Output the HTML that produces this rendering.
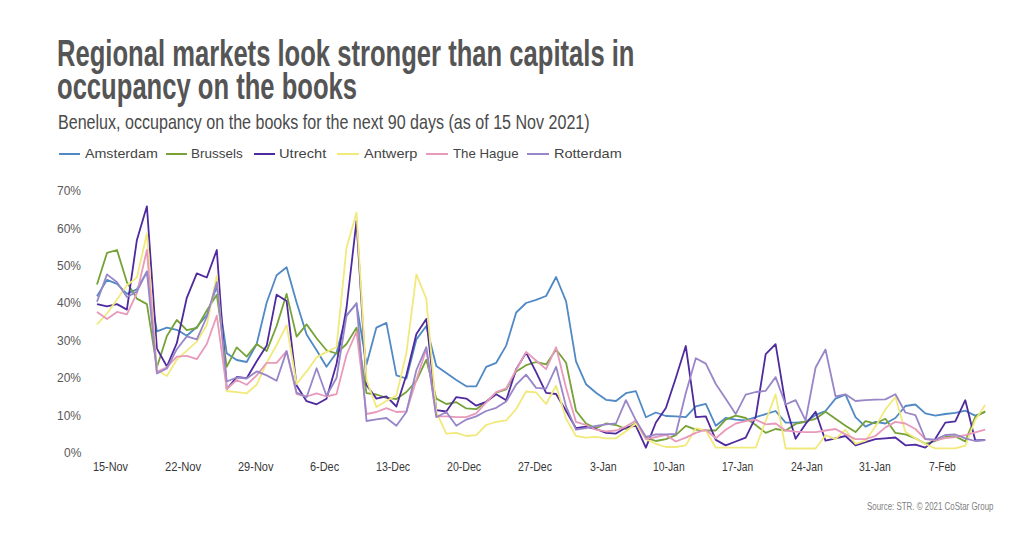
<!DOCTYPE html>
<html><head><meta charset="utf-8">
<style>
html,body{margin:0;padding:0;background:#fff;}
body{width:1024px;height:537px;position:relative;overflow:hidden;font-family:"Liberation Sans",sans-serif;}
.t{position:absolute;white-space:nowrap;transform-origin:0 0;line-height:1;}
#t1,#t2{font-size:36.8px;font-weight:bold;color:#555555;}
#t1{left:57px;top:35.6px;transform:scaleX(0.6956);}
#t2{left:57px;top:69px;transform:scaleX(0.6956);}
#sub{left:58px;top:111.8px;font-size:20.3px;color:#4a4a4a;transform:scaleX(0.7925);}
.lg{position:absolute;top:153.4px;height:1.6px;width:22px;}
.lt{font-size:13.5px;color:#444;top:147px;}
.yl{font-size:12.5px;color:#595959;transform:scaleX(0.96);}
.xl{font-size:12px;color:#383838;}
#src{left:867px;top:500.5px;font-size:11px;color:#7f7f7f;transform:scaleX(0.72);}
svg{position:absolute;left:0;top:0;}
</style></head><body>
<div class="t" id="t1">Regional markets look stronger than capitals in</div>
<div class="t" id="t2">occupancy on the books</div>
<div class="t" id="sub">Benelux, occupancy on the books for the next 90 days (as of 15 Nov 2021)</div>

<div class="lg" style="left:58.8px;width:21.7px;background:#5089c4"></div><div class="t lt" style="left:84.5px;transform:scaleX(1.055)">Amsterdam</div>
<div class="lg" style="left:165.8px;width:21.7px;background:#76a238"></div><div class="t lt" style="left:191.4px;transform:scaleX(0.998)">Brussels</div>
<div class="lg" style="left:253.8px;width:21.7px;background:#4f2a9e"></div><div class="t lt" style="left:279.3px;transform:scaleX(1.088)">Utrecht</div>
<div class="lg" style="left:336.6px;width:22.9px;background:#f2e97c"></div><div class="t lt" style="left:363.5px;transform:scaleX(1.079)">Antwerp</div>
<div class="lg" style="left:426.3px;width:21.9px;background:#e79abb"></div><div class="t lt" style="left:452.9px;transform:scaleX(0.982)">The Hague</div>
<div class="lg" style="left:527.3px;width:22.0px;background:#9886c8"></div><div class="t lt" style="left:553.6px;transform:scaleX(1.075)">Rotterdam</div>

<div class="t yl" style="left:57.3px;top:185.1px">70%</div>
<div class="t yl" style="left:57.3px;top:222.5px">60%</div>
<div class="t yl" style="left:57.3px;top:260.0px">50%</div>
<div class="t yl" style="left:57.3px;top:297.4px">40%</div>
<div class="t yl" style="left:57.3px;top:334.9px">30%</div>
<div class="t yl" style="left:57.3px;top:372.3px">20%</div>
<div class="t yl" style="left:57.3px;top:409.7px">10%</div>
<div class="t yl" style="left:63.6px;top:447.2px">0%</div>

<div class="t xl" style="left:93.2px;top:460.5px;transform:scaleX(0.906)">15-Nov</div>
<div class="t xl" style="left:164.9px;top:460.5px;transform:scaleX(0.936)">22-Nov</div>
<div class="t xl" style="left:237.8px;top:460.5px;transform:scaleX(0.917)">29-Nov</div>
<div class="t xl" style="left:309.8px;top:460.5px;transform:scaleX(0.910)">6-Dec</div>
<div class="t xl" style="left:375.7px;top:460.5px;transform:scaleX(0.882)">13-Dec</div>
<div class="t xl" style="left:447.0px;top:460.5px;transform:scaleX(0.882)">20-Dec</div>
<div class="t xl" style="left:518.3px;top:460.5px;transform:scaleX(0.876)">27-Dec</div>
<div class="t xl" style="left:589.8px;top:460.5px;transform:scaleX(0.885)">3-Jan</div>
<div class="t xl" style="left:652.9px;top:460.5px;transform:scaleX(0.862)">10-Jan</div>
<div class="t xl" style="left:722.0px;top:460.5px;transform:scaleX(0.851)">17-Jan</div>
<div class="t xl" style="left:790.6px;top:460.5px;transform:scaleX(0.863)">24-Jan</div>
<div class="t xl" style="left:859.3px;top:460.5px;transform:scaleX(0.865)">31-Jan</div>
<div class="t xl" style="left:928.7px;top:460.5px;transform:scaleX(0.856)">7-Feb</div>

<div class="t" id="src">Source: STR. © 2021 CoStar Group</div>

<svg width="1024" height="537" id="chart">
<path d="M97.0,296.3 L107.0,279.9 L117.0,283.8 L126.9,293.9 L136.9,289.2 L146.9,272.0 L156.9,331.3 L166.9,327.6 L176.8,329.8 L186.8,335.8 L196.8,327.0 L206.8,315.0 L216.8,286.1 L226.7,353.2 L236.7,360.0 L246.7,362.0 L256.7,344.0 L266.7,302.5 L276.6,275.2 L286.6,267.3 L296.6,302.5 L306.6,334.5 L316.6,350.3 L326.5,366.8 L336.5,352.7 L346.5,315.0 L356.5,304.0 L366.5,364.4 L376.4,327.6 L386.4,322.9 L396.4,375.4 L406.4,378.5 L416.4,339.4 L426.3,326.0 L436.3,366.0 L446.3,373.0 L456.3,380.0 L466.3,386.3 L476.2,386.3 L486.2,366.8 L496.2,362.8 L506.2,345.6 L516.2,312.5 L526.1,303.0 L536.1,299.9 L546.1,296.0 L556.1,277.0 L566.1,301.4 L576.0,361.3 L586.0,384.2 L596.0,392.8 L606.0,399.8 L616.0,401.0 L625.9,393.2 L635.9,391.2 L645.9,417.2 L655.9,412.5 L665.9,416.0 L675.8,416.4 L685.8,417.2 L695.8,406.3 L705.8,403.9 L715.8,425.8 L725.7,418.0 L735.7,419.6 L745.7,420.4 L755.7,417.2 L765.7,414.1 L775.6,411.0 L785.6,422.7 L795.6,422.7 L805.6,422.0 L815.6,414.9 L825.5,411.0 L835.5,398.6 L845.5,394.7 L855.5,417.2 L865.5,426.6 L875.4,421.9 L885.4,423.5 L895.4,418.0 L905.4,406.0 L915.4,404.5 L925.3,413.4 L935.3,415.6 L945.3,414.0 L955.3,412.8 L965.3,410.7 L975.2,415.6 L985.2,412.0" fill="none" stroke="#5089c4" stroke-width="1.8" stroke-linejoin="round"/>
<path d="M97.0,284.5 L107.0,252.9 L117.0,250.0 L126.9,282.2 L136.9,298.6 L146.9,304.1 L156.9,367.3 L166.9,336.0 L176.8,320.0 L186.8,330.2 L196.8,328.0 L206.8,310.4 L216.8,294.7 L226.7,366.9 L236.7,347.4 L246.7,356.6 L256.7,344.0 L266.7,351.1 L276.6,326.0 L286.6,293.9 L296.6,336.6 L306.6,324.4 L316.6,338.2 L326.5,350.3 L336.5,353.5 L346.5,344.0 L356.5,327.6 L366.5,393.2 L376.4,394.5 L386.4,397.8 L396.4,399.0 L406.4,392.0 L416.4,380.8 L426.3,359.7 L436.3,398.6 L446.3,404.0 L456.3,402.2 L466.3,408.4 L476.2,409.2 L486.2,402.0 L496.2,392.6 L506.2,389.4 L516.2,371.4 L526.1,365.2 L536.1,362.0 L546.1,364.4 L556.1,349.5 L566.1,362.8 L576.0,410.8 L586.0,423.5 L596.0,428.2 L606.0,423.5 L616.0,425.0 L625.9,429.0 L635.9,423.0 L645.9,437.6 L655.9,441.0 L665.9,439.1 L675.8,435.2 L685.8,425.8 L695.8,429.7 L705.8,430.5 L715.8,430.5 L725.7,419.6 L735.7,415.7 L745.7,418.0 L755.7,425.0 L765.7,432.9 L775.6,429.0 L785.6,430.5 L795.6,423.9 L805.6,421.5 L815.6,418.8 L825.5,411.8 L835.5,418.8 L845.5,425.8 L855.5,432.1 L865.5,421.1 L875.4,423.5 L885.4,418.8 L895.4,432.9 L905.4,434.4 L915.4,438.3 L925.3,443.8 L935.3,441.0 L945.3,437.0 L955.3,436.5 L965.3,441.4 L975.2,417.0 L985.2,411.4" fill="none" stroke="#76a238" stroke-width="1.8" stroke-linejoin="round"/>
<path d="M97.0,304.1 L107.0,306.4 L117.0,304.1 L126.9,309.6 L136.9,239.9 L146.9,206.3 L156.9,348.6 L166.9,366.5 L176.8,343.2 L186.8,297.8 L196.8,273.4 L206.8,277.5 L216.8,250.0 L226.7,389.3 L236.7,377.0 L246.7,378.2 L256.7,361.3 L266.7,345.6 L276.6,294.7 L286.6,301.0 L296.6,385.5 L306.6,401.2 L316.6,404.3 L326.5,398.8 L336.5,364.0 L346.5,308.0 L356.5,220.8 L366.5,385.0 L376.4,398.6 L386.4,396.3 L396.4,406.5 L406.4,375.0 L416.4,334.0 L426.3,319.0 L436.3,410.2 L446.3,411.5 L456.3,397.1 L466.3,398.6 L476.2,405.7 L486.2,401.8 L496.2,394.3 L506.2,400.2 L516.2,369.1 L526.1,352.7 L536.1,372.2 L546.1,392.8 L556.1,394.0 L566.1,411.0 L576.0,428.2 L586.0,426.6 L596.0,429.0 L606.0,432.9 L616.0,433.6 L625.9,427.4 L635.9,425.8 L645.9,447.7 L655.9,422.5 L665.9,408.0 L675.8,378.0 L685.8,346.0 L695.8,417.2 L705.8,416.4 L715.8,439.9 L725.7,445.4 L735.7,441.5 L745.7,437.6 L755.7,417.2 L765.7,354.2 L775.6,344.1 L785.6,405.0 L795.6,438.8 L805.6,424.0 L815.6,411.8 L825.5,440.7 L835.5,438.3 L845.5,436.0 L855.5,445.4 L865.5,442.2 L875.4,439.1 L885.4,438.3 L895.4,437.5 L905.4,445.3 L915.4,444.6 L925.3,447.7 L935.3,438.8 L945.3,422.6 L955.3,421.4 L965.3,400.2 L975.2,440.3 L985.2,440.0" fill="none" stroke="#4f2a9e" stroke-width="1.8" stroke-linejoin="round"/>
<path d="M97.0,324.4 L107.0,313.5 L117.0,299.4 L126.9,285.3 L136.9,277.5 L146.9,233.6 L156.9,370.0 L166.9,376.0 L176.8,359.6 L186.8,350.7 L196.8,341.7 L206.8,325.0 L216.8,276.0 L226.7,391.0 L236.7,392.2 L246.7,393.3 L256.7,384.7 L266.7,362.8 L276.6,345.0 L286.6,325.2 L296.6,384.0 L306.6,371.4 L316.6,357.4 L326.5,351.9 L336.5,347.2 L346.5,248.0 L356.5,212.5 L366.5,380.0 L376.4,407.0 L386.4,401.0 L396.4,395.5 L406.4,353.0 L416.4,274.4 L426.3,298.6 L436.3,412.0 L446.3,433.6 L456.3,432.9 L466.3,436.0 L476.2,435.2 L486.2,425.0 L496.2,421.9 L506.2,420.4 L516.2,409.0 L526.1,391.5 L536.1,392.4 L546.1,404.0 L556.1,385.8 L566.1,418.8 L576.0,436.0 L586.0,437.6 L596.0,436.8 L606.0,438.3 L616.0,438.3 L625.9,431.3 L635.9,423.5 L645.9,439.1 L655.9,443.8 L665.9,447.0 L675.8,447.0 L685.8,445.4 L695.8,428.2 L705.8,430.5 L715.8,447.7 L725.7,447.7 L735.7,447.7 L745.7,447.7 L755.7,447.7 L765.7,421.0 L775.6,394.3 L785.6,448.5 L795.6,448.5 L805.6,448.5 L815.6,448.5 L825.5,435.2 L835.5,439.1 L845.5,429.7 L855.5,443.8 L865.5,440.7 L875.4,426.6 L885.4,409.4 L895.4,397.0 L905.4,431.8 L915.4,438.3 L925.3,444.0 L935.3,448.4 L945.3,448.4 L955.3,448.4 L965.3,445.6 L975.2,420.0 L985.2,405.0" fill="none" stroke="#f2e97c" stroke-width="1.8" stroke-linejoin="round"/>
<path d="M97.0,311.9 L107.0,319.0 L117.0,311.9 L126.9,314.3 L136.9,293.2 L146.9,250.0 L156.9,371.7 L166.9,367.2 L176.8,356.6 L186.8,355.8 L196.8,359.2 L206.8,344.0 L216.8,315.7 L226.7,389.0 L236.7,380.0 L246.7,384.8 L256.7,375.4 L266.7,362.8 L276.6,362.8 L286.6,351.1 L296.6,394.1 L306.6,396.5 L316.6,393.3 L326.5,396.5 L336.5,394.1 L346.5,355.0 L356.5,331.6 L366.5,414.0 L376.4,412.0 L386.4,408.2 L396.4,412.0 L406.4,411.5 L416.4,380.0 L426.3,349.0 L436.3,416.4 L446.3,416.4 L456.3,417.2 L466.3,417.2 L476.2,413.3 L486.2,402.4 L496.2,392.2 L506.2,388.3 L516.2,370.0 L526.1,351.9 L536.1,360.5 L546.1,369.1 L556.1,347.2 L566.1,388.0 L576.0,421.9 L586.0,425.0 L596.0,429.7 L606.0,431.3 L616.0,430.5 L625.9,426.6 L635.9,420.4 L645.9,439.1 L655.9,437.0 L665.9,434.8 L675.8,441.5 L685.8,437.6 L695.8,432.9 L705.8,429.7 L715.8,438.3 L725.7,429.7 L735.7,423.5 L745.7,421.1 L755.7,419.6 L765.7,424.3 L775.6,423.5 L785.6,430.5 L795.6,431.7 L805.6,432.1 L815.6,432.1 L825.5,430.5 L835.5,429.0 L845.5,434.4 L855.5,439.1 L865.5,439.1 L875.4,436.0 L885.4,427.4 L895.4,421.9 L905.4,423.5 L915.4,429.0 L925.3,439.1 L935.3,440.3 L945.3,438.0 L955.3,437.2 L965.3,435.1 L975.2,432.4 L985.2,429.6" fill="none" stroke="#e79abb" stroke-width="1.8" stroke-linejoin="round"/>
<path d="M97.0,301.8 L107.0,274.4 L117.0,282.2 L126.9,297.0 L136.9,291.6 L146.9,271.3 L156.9,373.5 L166.9,368.5 L176.8,349.2 L186.8,336.4 L196.8,339.4 L206.8,317.0 L216.8,282.2 L226.7,381.5 L236.7,377.5 L246.7,378.5 L256.7,371.4 L266.7,375.4 L276.6,380.8 L286.6,351.1 L296.6,392.6 L306.6,397.3 L316.6,368.3 L326.5,395.7 L336.5,378.0 L346.5,316.0 L356.5,303.0 L366.5,421.0 L376.4,419.3 L386.4,418.0 L396.4,425.8 L406.4,412.0 L416.4,370.0 L426.3,347.2 L436.3,417.2 L446.3,412.0 L456.3,425.8 L466.3,419.6 L476.2,416.4 L486.2,411.0 L496.2,407.8 L506.2,401.6 L516.2,384.5 L526.1,374.6 L536.1,387.9 L546.1,388.6 L556.1,366.8 L566.1,406.6 L576.0,429.7 L586.0,428.2 L596.0,426.0 L606.0,424.3 L616.0,423.5 L625.9,400.2 L635.9,420.4 L645.9,436.8 L655.9,434.4 L665.9,434.4 L675.8,434.0 L685.8,393.0 L695.8,358.2 L705.8,363.6 L715.8,384.0 L725.7,398.8 L735.7,414.1 L745.7,394.7 L755.7,392.0 L765.7,390.8 L775.6,377.1 L785.6,404.5 L795.6,400.2 L805.6,420.4 L815.6,367.5 L825.5,349.5 L835.5,396.3 L845.5,394.3 L855.5,401.0 L865.5,400.2 L875.4,399.6 L885.4,399.4 L895.4,394.3 L905.4,412.5 L915.4,415.1 L925.3,439.0 L935.3,439.6 L945.3,435.0 L955.3,434.5 L965.3,438.3 L975.2,441.0 L985.2,440.0" fill="none" stroke="#9886c8" stroke-width="1.8" stroke-linejoin="round"/>
</svg>
</body></html>
